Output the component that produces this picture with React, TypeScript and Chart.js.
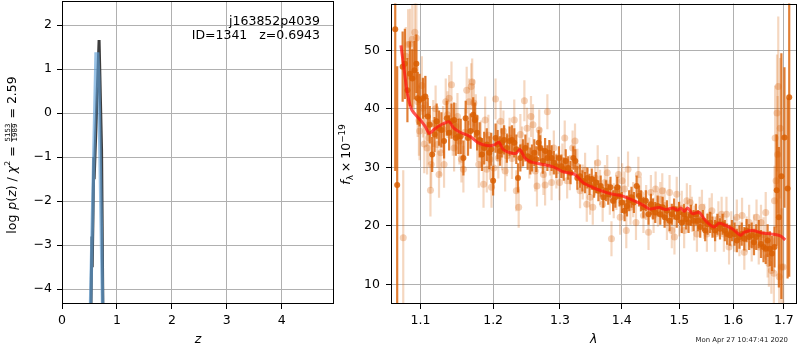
import React, { useEffect, useRef } from 'react';
import { Chart, registerables } from 'chart.js';
Chart.register(...registerables);

const FONT = '"DejaVu Sans", sans-serif';

// ---------- left panel: log p(z) ----------
const pzDarkZ = [0.525, 0.545, 0.55, 0.58, 0.585, 0.675, 0.69, 0.72, 0.745];
const pzDarkLogP = [-4.6, -2.8, -3.5, -1.0, -1.5, 1.66, 1.66, -0.84, -4.6];
const pzBlueZ = [0.515, 0.62, 0.65, 0.668, 0.742];
const pzBlueLogP = [-4.6, 1.34, 1.34, 0.82, -4.6];
const pzXTicks = [0, 1, 2, 3, 4];
const pzYTicks = [-4, -3, -2, -1, 0, 1, 2];

// ---------- right panel: spectrum ----------
const modelWave = [1.0745, 1.0801, 1.0831, 1.0887, 1.0996, 1.1062, 1.1115, 1.1172, 1.1262, 1.1382, 1.1441, 1.1534, 1.1671, 1.1788, 1.1930, 1.2026, 1.2084, 1.2146, 1.2246, 1.2334, 1.2392, 1.2466, 1.2566, 1.2741, 1.2895, 1.3049, 1.3233, 1.3366, 1.3526, 1.3688, 1.3851, 1.4015, 1.4184, 1.4354, 1.4470, 1.4643, 1.4761, 1.4878, 1.4967, 1.5028, 1.5088, 1.5148, 1.5238, 1.5360, 1.5452, 1.5544, 1.5636, 1.5729, 1.5823, 1.5981, 1.6142, 1.6206, 1.6367, 1.6563, 1.6762, 1.6929, 1.7030];
const modelFlux = [50.85, 45.2, 42.4, 39.8, 38.1, 37.0, 35.8, 36.4, 37.2, 37.8, 36.8, 36.0, 35.3, 34.2, 33.7, 33.9, 34.3, 33.05, 32.5, 32.4, 33.05, 31.6, 30.9, 30.5, 30.1, 29.25, 28.8, 27.4, 26.55, 25.9, 25.4, 25.1, 24.4, 23.6, 22.9, 23.15, 22.8, 23.05, 22.7, 23.05, 22.5, 23.05, 22.1, 22.3, 21.2, 20.3, 19.8, 20.45, 20.2, 19.5, 18.4, 18.9, 19.2, 18.8, 18.6, 18.3, 17.6];

const lightWave = [
  1.0775, 1.0808, 1.0838, 1.0863, 1.0892, 1.0913, 1.0925, 1.0946, 1.0963, 1.0979,
  1.0988, 1.1018, 1.1032, 1.1050, 1.1064, 1.1087, 1.1110, 1.1132, 1.1142, 1.1169,
  1.1201, 1.1224, 1.1247, 1.1269, 1.1301, 1.1315, 1.1338, 1.1361, 1.1384, 1.1416,
  1.1434, 1.1452, 1.1475, 1.1498, 1.1525, 1.1553, 1.1580, 1.1603, 1.1626, 1.1658,
  1.1689, 1.1703, 1.1726, 1.1753, 1.1772, 1.1795, 1.1826, 1.1863, 1.1886, 1.1909,
  1.1932, 1.1954, 1.1977, 1.2010, 1.2035, 1.2060, 1.2075, 1.2109, 1.2129, 1.2149,
  1.2174, 1.2199, 1.2239, 1.2274, 1.2308, 1.2338, 1.2373, 1.2398, 1.2423, 1.2458,
  1.2498, 1.2532, 1.2557, 1.2587, 1.2622, 1.2647, 1.2682, 1.2706, 1.2746, 1.2771,
  1.2806, 1.2846, 1.2871, 1.2905, 1.2945, 1.2995, 1.3038, 1.3075, 1.3113, 1.3156,
  1.3199, 1.3237, 1.3274, 1.3317, 1.3360, 1.3398, 1.3425, 1.3478, 1.3522, 1.3559,
  1.3602, 1.3640, 1.3683, 1.3720, 1.3758, 1.3801, 1.3828, 1.3866, 1.3909, 1.3946,
  1.3973, 1.4006, 1.4047, 1.4076, 1.4105, 1.4146, 1.4193, 1.4240, 1.4281, 1.4322,
  1.4368, 1.4415, 1.4456, 1.4497, 1.4544, 1.4579, 1.4620, 1.4661, 1.4696, 1.4737,
  1.4778, 1.4825, 1.4865, 1.4912, 1.4953, 1.5000, 1.5043, 1.5086, 1.5135, 1.5196,
  1.5227, 1.5270, 1.5319, 1.5368, 1.5411, 1.5454, 1.5503, 1.5552, 1.5595, 1.5656,
  1.5718, 1.5779, 1.5822, 1.5871, 1.5920, 1.5963, 1.6025, 1.6069, 1.6119, 1.6170,
  1.6214, 1.6258, 1.6308, 1.6358, 1.6403, 1.6453, 1.6497, 1.6541, 1.6591, 1.6635,
  1.6673, 1.6698, 1.6748, 1.6799, 1.6811, 1.6824, 1.6843, 1.6862, 1.6874, 1.6887,
  1.6906, 1.6925, 1.6950, 1.6987,
];
const lightFlux = [
  18.0, 49.0, 51.0, 51.1, 51.9, 45.5, 53.1, 52.1, 41.2, 38.0,
  36.2, 44.0, 40.1, 34.0, 40.7, 33.3, 35.0, 26.1, 30.5, 37.5,
  40.0, 33.9, 28.8, 32.5, 36.5, 30.5, 41.2, 39.0, 41.8, 44.1,
  36.0, 33.3, 37.0, 38.7, 34.5, 31.4, 29.7, 36.0, 43.2, 41.2,
  43.8, 44.6, 41.0, 38.5, 35.0, 30.5, 34.0, 27.1, 38.1, 29.7,
  35.5, 31.4, 26.6, 29.9, 41.7, 34.5, 31.6, 37.9, 33.0, 36.2,
  29.4, 32.0, 35.0, 31.5, 38.1, 26.0, 23.2, 35.6, 33.5, 41.4,
  36.7, 31.6, 38.7, 37.3, 29.4, 26.8, 36.4, 33.3, 28.8, 27.0,
  39.5, 31.6, 27.4, 33.3, 29.4, 27.4, 31.1, 35.0, 27.7, 29.1,
  33.3, 34.5, 30.2, 26.0, 27.5, 29.5, 23.7, 24.9, 23.2, 28.2,
  30.8, 26.6, 23.7, 27.4, 29.1, 24.9, 17.8, 24.3, 25.7, 28.8,
  21.5, 27.7, 26.3, 19.2, 29.7, 23.2, 24.5, 20.6, 28.8, 25.4,
  21.8, 24.0, 18.9, 25.7, 21.8, 26.3, 22.9, 24.5, 26.0, 23.5,
  20.6, 25.7, 19.2, 18.1, 25.4, 21.2, 23.0, 19.2, 24.3, 24.0,
  22.0, 20.5, 18.6, 22.0, 23.2, 20.8, 18.6, 21.8, 22.6, 18.6,
  21.2, 22.0, 18.6, 22.0, 16.4, 19.5, 18.6, 21.5, 17.8, 21.8,
  15.5, 18.6, 20.6, 16.9, 19.0, 21.5, 16.4, 20.6, 18.5, 22.3,
  14.7, 13.6, 12.4, 11.9, 24.3, 35.0, 27.7, 39.3, 32.2, 43.8,
  11.3, 36.7, 13.0, 13.0,
];
const lightErr = [
  11.5, 5, 6, 6, 6, 6, 6, 6, 6, 6,
  5, 5, 5, 5, 5, 4.5, 4.5, 4.5, 4, 4,
  4, 4, 4, 4, 4, 4, 4, 4, 4, 4,
  4, 4, 4, 4, 4, 4, 4, 4, 4, 4,
  4, 4, 4, 4, 4, 4, 4, 4, 4, 4,
  3.5, 3.5, 3.5, 3.5, 3.5, 3.5, 3.5, 3.5, 3.5, 3.5,
  3.5, 3.5, 3.5, 3.5, 3.5, 3.5, 3.5, 3.5, 3.5, 3.5,
  3.5, 3.5, 3.5, 3.5, 3.5, 3.5, 3.5, 3.5, 3.5, 3.5,
  3, 3, 3, 3, 3, 3, 3, 3, 3, 3,
  3, 3, 3, 3, 3, 3, 3, 3, 3, 3,
  3, 3, 3, 3, 3, 3, 3, 3, 3, 3,
  3, 3, 3, 3, 3, 3, 3, 3, 3, 3,
  3, 3, 3, 3, 3, 3, 3, 3, 3, 3,
  3, 3, 3, 3, 3, 3, 3, 3, 3, 3,
  3, 3, 3, 3, 3, 3, 3, 3, 3, 3,
  3, 3, 3, 3, 3, 3, 3, 3, 3, 3,
  3, 3, 3, 3, 3, 3, 3, 3, 3, 3.5,
  3.5, 4, 4, 6, 6, 9, 8, 10, 10, 12,
  8, 12, 10, 10,
];

const darkWave = [
  1.0672, 1.0697, 1.0767, 1.0796, 1.0829, 1.0862, 1.0892, 1.0921, 1.0946, 1.0963,
  1.0988, 1.1032, 1.1064, 1.1096, 1.1123, 1.1155, 1.1187, 1.1215, 1.1247, 1.1279,
  1.1315, 1.1352, 1.1384, 1.1416, 1.1452, 1.1475, 1.1511, 1.1543, 1.1580, 1.1612,
  1.1644, 1.1680, 1.1717, 1.1740, 1.1772, 1.1808, 1.1840, 1.1872, 1.1909, 1.1945,
  1.1973, 1.2000, 1.2035, 1.2065, 1.2100, 1.2124, 1.2159, 1.2199, 1.2239, 1.2274,
  1.2308, 1.2338, 1.2363, 1.2398, 1.2438, 1.2473, 1.2507, 1.2547, 1.2572, 1.2607,
  1.2637, 1.2672, 1.2697, 1.2736, 1.2771, 1.2806, 1.2836, 1.2871, 1.2905, 1.2945,
  1.2985, 1.3022, 1.3059, 1.3091, 1.3129, 1.3167, 1.3210, 1.3242, 1.3274, 1.3317,
  1.3355, 1.3398, 1.3435, 1.3468, 1.3505, 1.3543, 1.3575, 1.3613, 1.3651, 1.3694,
  1.3737, 1.3774, 1.3812, 1.3855, 1.3892, 1.3925, 1.3962, 1.4000, 1.4047, 1.4088,
  1.4123, 1.4164, 1.4205, 1.4251, 1.4292, 1.4327, 1.4368, 1.4409, 1.4456, 1.4497,
  1.4532, 1.4573, 1.4614, 1.4661, 1.4702, 1.4737, 1.4778, 1.4825, 1.4865, 1.4906,
  1.4953, 1.4994, 1.5043, 1.5086, 1.5123, 1.5166, 1.5209, 1.5258, 1.5301, 1.5337,
  1.5380, 1.5429, 1.5472, 1.5515, 1.5564, 1.5607, 1.5656, 1.5699, 1.5748, 1.5798,
  1.5840, 1.5883, 1.5933, 1.5975, 1.6025, 1.6069, 1.6119, 1.6164, 1.6214, 1.6258,
  1.6308, 1.6358, 1.6403, 1.6447, 1.6497, 1.6541, 1.6591, 1.6635, 1.6673, 1.6717,
  1.6761, 1.6811, 1.6855, 1.6899, 1.6950, 1.7013, 1.7077, 1.7110,
];
const darkFlux = [
  53.6, 27.0, 47.2, 47.7, 43.2, 46.0, 45.2, 46.6, 47.7, 41.8,
  41.5, 41.8, 42.1, 38.7, 37.3, 32.2, 35.6, 37.9, 36.7, 36.4,
  34.5, 38.4, 35.9, 37.9, 38.1, 35.0, 35.3, 35.3, 31.6, 38.4,
  35.0, 36.2, 39.0, 38.1, 35.9, 34.7, 32.2, 33.3, 33.9, 32.5,
  33.1, 27.7, 35.0, 33.9, 32.8, 34.2, 34.7, 33.3, 34.5, 34.7,
  34.2, 33.1, 28.2, 31.6, 32.5, 33.3, 31.9, 31.1, 31.6, 32.5,
  31.4, 34.2, 33.3, 31.1, 32.8, 31.6, 32.5, 31.6, 30.8, 30.2,
  31.6, 30.2, 29.7, 31.1, 29.9, 29.1, 31.6, 31.1, 28.2, 28.5,
  27.7, 27.4, 28.2, 27.1, 28.0, 26.6, 27.4, 26.0, 26.8, 24.9,
  26.0, 25.4, 26.6, 24.3, 24.9, 26.6, 25.1, 24.0, 22.6, 23.4,
  24.3, 24.9, 24.0, 26.8, 25.1, 24.3, 23.2, 24.3, 22.0, 23.7,
  22.9, 22.3, 23.4, 22.0, 23.2, 21.5, 22.6, 20.9, 22.0, 22.9,
  21.5, 22.3, 20.6, 22.0, 21.2, 20.6, 21.8, 20.9, 22.0, 20.9,
  19.8, 20.9, 19.2, 20.3, 20.6, 19.8, 19.2, 20.3, 19.5, 20.3,
  19.2, 18.6, 18.4, 19.2, 18.6, 17.5, 18.1, 18.6, 17.8, 19.2,
  18.1, 18.4, 17.2, 18.1, 18.6, 16.9, 16.4, 16.1, 17.5, 16.1,
  15.3, 16.4, 26.1, 21.5, 28.5, 35.1, 26.4, 42.0,
];
const darkErr = [
  24.2, 20.3, 6, 6, 5.5, 5.5, 5, 5, 5, 4.5,
  4.5, 3.5, 3.5, 3.2, 3.2, 3, 3, 3, 3, 3,
  3, 3, 3, 3, 3, 3, 3, 3, 3, 3,
  3, 3, 3, 3, 3, 3, 2.8, 2.8, 2.8, 2.8,
  2.8, 2.5, 2.5, 2.5, 2.5, 2.5, 2.5, 2.5, 2.5, 2.5,
  2.5, 2.5, 2.5, 2.3, 2.3, 2.3, 2.3, 2.3, 2.3, 2.3,
  2.2, 2.2, 2.2, 2.2, 2.2, 2.2, 2.2, 2.2, 2, 2,
  2, 2, 2, 2, 2, 2, 2, 2, 2, 2,
  1.8, 1.8, 1.8, 1.8, 1.8, 1.8, 1.8, 1.8, 1.8, 1.8,
  1.8, 1.8, 1.8, 1.8, 1.8, 1.8, 1.8, 1.8, 1.8, 1.8,
  1.8, 1.8, 1.8, 1.8, 1.8, 1.8, 1.8, 1.8, 1.8, 1.8,
  1.8, 1.8, 1.8, 1.8, 1.8, 1.8, 1.8, 1.8, 1.8, 1.8,
  1.8, 1.8, 1.8, 1.8, 1.8, 1.8, 1.8, 1.8, 1.8, 1.8,
  1.8, 1.8, 1.8, 1.8, 1.8, 1.8, 1.8, 1.8, 1.8, 1.8,
  1.8, 1.8, 1.8, 1.8, 2, 2, 2, 2, 2, 2,
  2.2, 2.2, 2.2, 2.2, 2.4, 2.4, 2.6, 2.6, 2.8, 3,
  3, 3.5, 9.5, 12, 21, 12, 15.4, 30.7,
];
const specXTicks = [1.1, 1.2, 1.3, 1.4, 1.5, 1.6, 1.7];
const specYTicks = [10, 20, 30, 40, 50];

const objName = 'j163852p4039';
const objInfo = 'ID=1341   z=0.6943';
const timeStamp = 'Mon Apr 27 10:47:41 2020';

// ---------- helpers ----------
const zip = (xs: number[], ys: number[]) => xs.map((x, i) => ({ x, y: ys[i] }));
const minus = (v: number) => String(Math.round(v * 100) / 100).replace('-', '\u2212');

const errorBarPlugin = {
  id: 'errbars',
  beforeDatasetDraw(chart: any, args: any) {
    const ds: any = chart.data.datasets[args.index];
    if (!ds.errors) return;
    const { ctx, chartArea: a } = chart;
    const xs = chart.scales.x;
    const ys = chart.scales.y;
    ctx.save();
    ctx.beginPath();
    ctx.rect(a.left, a.top, a.right - a.left, a.bottom - a.top);
    ctx.clip();
    ctx.strokeStyle = ds.errColor;
    ctx.lineWidth = ds.errWidth;
    ds.data.forEach((p: any, i: number) => {
      const e = ds.errors[i];
      const x = xs.getPixelForValue(p.x);
      ctx.beginPath();
      ctx.moveTo(x, ys.getPixelForValue(p.y - e));
      ctx.lineTo(x, ys.getPixelForValue(p.y + e));
      ctx.stroke();
    });
    ctx.restore();
  },
};

const framePlugin = {
  id: 'frame',
  afterDraw(chart: any) {
    const { ctx, chartArea: a } = chart;
    ctx.save();
    ctx.strokeStyle = '#000';
    ctx.lineWidth = 1;
    const l = Math.round(a.left), t = Math.round(a.top);
    const r = Math.round(a.right), b = Math.round(a.bottom);
    ctx.strokeRect(l + 0.5, t + 0.5, r - l - 1, b - t - 1);
    ctx.restore();
  },
};

type Seg = { t?: string; size: number; italic?: boolean; dy?: number; num?: string; den?: string; gap?: number };

function drawRotatedRich(ctx: CanvasRenderingContext2D, segs: Seg[], cx: number, cy: number, base: number) {
  const fnt = (s: Seg) => `${s.italic ? 'italic ' : ''}${s.size}px ${FONT}`;
  const widthOf = (s: Seg) => {
    if (s.gap !== undefined) return s.gap;
    ctx.font = fnt(s);
    if (s.num !== undefined) {
      return Math.max(ctx.measureText(s.num).width, ctx.measureText(s.den || '').width) + 2;
    }
    return ctx.measureText(s.t || '').width;
  };
  ctx.save();
  ctx.translate(cx, cy);
  ctx.rotate(-Math.PI / 2);
  ctx.fillStyle = '#000';
  ctx.strokeStyle = '#000';
  ctx.textBaseline = 'alphabetic';
  const total = segs.reduce((acc, s) => acc + widthOf(s), 0);
  let x = -total / 2;
  for (const s of segs) {
    const w = widthOf(s);
    if (s.gap === undefined) {
      ctx.font = fnt(s);
      if (s.num !== undefined) {
        ctx.textAlign = 'center';
        ctx.fillText(s.num, x + w / 2, base - 5.6);
        ctx.fillText(s.den || '', x + w / 2, base + 0.8);
        ctx.lineWidth = 0.7;
        ctx.beginPath();
        ctx.moveTo(x + 0.5, base - 4.5);
        ctx.lineTo(x + w - 0.5, base - 4.5);
        ctx.stroke();
        ctx.textAlign = 'left';
      } else {
        ctx.textAlign = 'left';
        ctx.fillText(s.t || '', x, base + (s.dy || 0));
      }
    }
    x += w;
  }
  ctx.restore();
}

const M = 12.5;

const leftTextPlugin = {
  id: 'leftText',
  afterDraw(chart: any) {
    const ctx: CanvasRenderingContext2D = chart.ctx;
    drawRotatedRich(ctx, [
      { t: 'log', size: M },
      { gap: 5 },
      { t: 'p', size: M, italic: true },
      { t: '(', size: M },
      { t: 'z', size: M, italic: true },
      { t: ')', size: M },
      { gap: 4 },
      { t: '/', size: M },
      { gap: 4 },
      { t: 'χ', size: M, italic: true },
      { t: '2', size: M * 0.62, dy: -6 },
      { gap: 4 },
      { t: '=', size: M },
      { gap: 4 },
      { num: '5153', den: '1989', size: M * 0.56 },
      { gap: 4 },
      { t: '=', size: M },
      { gap: 4 },
      { t: '2.59', size: M },
    ], 12, 155, 4);
    ctx.save();
    ctx.fillStyle = '#000';
    ctx.font = `${M}px ${FONT}`;
    ctx.textAlign = 'right';
    ctx.textBaseline = 'alphabetic';
    ctx.fillText(objName, 320, 25);
    ctx.fillText(objInfo, 320, 39.3);
    ctx.restore();
  },
};

const rightTextPlugin = {
  id: 'rightText',
  afterDraw(chart: any) {
    const ctx: CanvasRenderingContext2D = chart.ctx;
    drawRotatedRich(ctx, [
      { t: 'f', size: M, italic: true },
      { t: 'λ', size: M * 0.7, dy: 3 },
      { gap: 3 },
      { t: '×', size: M },
      { gap: 3 },
      { t: '10', size: M },
      { t: '\u221219', size: M * 0.7, dy: -5.5 },
    ], 345, 154.5, 5);
    ctx.save();
    ctx.fillStyle = '#222';
    ctx.font = `6.9px ${FONT}`;
    ctx.textAlign = 'right';
    ctx.textBaseline = 'alphabetic';
    ctx.fillText(timeStamp, 788, 342);
    ctx.restore();
  },
};

const gridOpts = { color: '#b0b0b0', lineWidth: 1, tickLength: 5, tickColor: '#000', drawTicks: true };
const tickFont = { family: FONT, size: M };

const fixX = (h: number) => (s: any) => { s.height = h; s.paddingLeft = 0; s.paddingRight = 0; s.paddingTop = 0; s.paddingBottom = 0; };
const fixY = (w: number) => (s: any) => { s.width = w; s.paddingLeft = 0; s.paddingRight = 0; s.paddingTop = 0; s.paddingBottom = 0; };

function leftConfig(): any {
  return {
    type: 'scatter',
    data: {
      datasets: [
        {
          data: zip(pzBlueZ, pzBlueLogP), showLine: true, borderColor: 'rgba(95,160,215,0.65)', borderWidth: 3.5,
          pointRadius: 0, clip: 0, order: 0, tension: 0,
        },
        {
          data: zip(pzDarkZ, pzDarkLogP), showLine: true, borderColor: 'rgba(45,45,45,0.92)', borderWidth: 3,
          pointRadius: 0, clip: 0, order: 1, tension: 0,
        },
      ],
    },
    options: {
      responsive: false, animation: false, devicePixelRatio: 1, events: [],
      layout: { padding: { left: 0, right: 466, top: 1, bottom: 0 } },
      plugins: { legend: { display: false }, tooltip: { enabled: false } },
      scales: {
        x: {
          type: 'linear', min: 0, max: 4.95,
          afterBuildTicks: (s: any) => { s.ticks = pzXTicks.map((v) => ({ value: v })); },
          afterFit: fixX(46),
          grid: gridOpts, border: { display: false },
          ticks: { color: '#000', font: tickFont, padding: 4, autoSkip: false, maxRotation: 0, callback: (v: any) => minus(Number(v)) },
          title: { display: true, text: 'z', color: '#000', font: { family: FONT, size: M, style: 'italic' }, padding: { top: 0, bottom: 2.5 } },
        },
        y: {
          type: 'linear', min: -4.335, max: 2.545,
          afterBuildTicks: (s: any) => { s.ticks = pzYTicks.map((v) => ({ value: v })); },
          afterFit: fixY(62),
          grid: gridOpts, border: { display: false },
          ticks: { color: '#000', font: tickFont, padding: 5, autoSkip: false, callback: (v: any) => minus(Number(v)) },
        },
      },
    },
    plugins: [framePlugin, leftTextPlugin],
  };
}

function rightConfig(): any {
  return {
    type: 'scatter',
    data: {
      datasets: [
        {
          data: zip(modelWave, modelFlux), showLine: true, borderColor: 'rgba(255,20,20,0.72)', borderWidth: 3,
          pointRadius: 0, clip: 0, order: 0, tension: 0.3,
        },
        {
          data: zip(darkWave, darkFlux), errors: darkErr, errColor: 'rgba(217,95,2,0.8)', errWidth: 2.2,
          pointRadius: 3, pointBorderWidth: 0, pointBackgroundColor: 'rgba(217,95,2,0.85)', pointHoverRadius: 0,
          clip: 0, order: 1,
        },
        {
          data: zip(lightWave, lightFlux), errors: lightErr, errColor: 'rgba(217,95,2,0.25)', errWidth: 2.2,
          pointRadius: 3.5, pointBorderWidth: 0, pointBackgroundColor: 'rgba(217,95,2,0.28)', pointHoverRadius: 0,
          clip: 0, order: 2,
        },
      ],
    },
    options: {
      responsive: false, animation: false, devicePixelRatio: 1, events: [],
      layout: { padding: { left: 0, right: 1, top: 1, bottom: 0 } },
      plugins: { legend: { display: false }, tooltip: { enabled: false } },
      scales: {
        x: {
          type: 'logarithmic', min: 1.0618, max: 1.726,
          afterBuildTicks: (s: any) => { s.ticks = specXTicks.map((v) => ({ value: v })); },
          afterFit: fixX(46),
          grid: gridOpts, border: { display: false },
          ticks: { color: '#000', font: tickFont, padding: 4, autoSkip: false, maxRotation: 0, callback: (v: any) => Number(v).toFixed(1) },
          title: { display: true, text: 'λ', color: '#000', font: { family: FONT, size: M, style: 'italic' }, padding: { top: 0, bottom: 2.5 } },
        },
        y: {
          type: 'linear', min: 6.66, max: 58.0,
          afterBuildTicks: (s: any) => { s.ticks = specYTicks.map((v) => ({ value: v })); },
          afterFit: fixY(391),
          grid: gridOpts, border: { display: false },
          ticks: { color: '#000', font: tickFont, padding: 6, autoSkip: false, callback: (v: any) => minus(Number(v)) },
        },
      },
    },
    plugins: [errorBarPlugin, framePlugin, rightTextPlugin],
  };
}

export default function App() {
  const leftRef = useRef<HTMLCanvasElement>(null);
  const rightRef = useRef<HTMLCanvasElement>(null);
  useEffect(() => {
    const c1 = new Chart(leftRef.current as HTMLCanvasElement, leftConfig());
    const c2 = new Chart(rightRef.current as HTMLCanvasElement, rightConfig());
    return () => {
      c1.destroy();
      c2.destroy();
    };
  }, []);
  return (
    <div style={{ position: 'absolute', left: 0, top: 0, width: 800, height: 350, background: '#fff' }}>
      <canvas ref={leftRef} width={800} height={350} style={{ position: 'absolute', left: 0, top: 0 }} />
      <canvas ref={rightRef} width={800} height={350} style={{ position: 'absolute', left: 0, top: 0 }} />
    </div>
  );
}
